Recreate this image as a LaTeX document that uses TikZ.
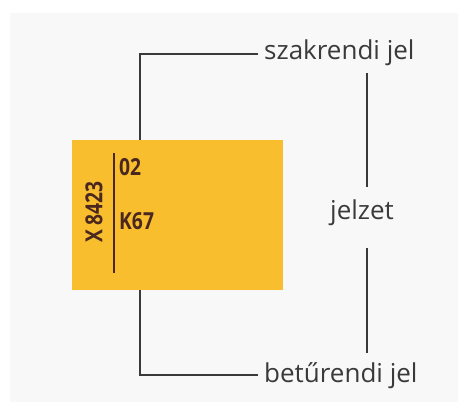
\documentclass[tikz,border=0pt]{standalone}
\usepackage{fontspec}
\setmainfont{Open Sans}
\newfontfamily\cardfont{Open Sans}
\definecolor{bggray}{HTML}{F8F8F8}
\definecolor{cardyellow}{HTML}{F8BE2E}
\definecolor{cardbrown}{HTML}{4A2820}
\definecolor{linegray}{HTML}{3A3A3A}
\begin{document}
\begin{tikzpicture}[x=1pt,y=-1pt,
  lbl/.style={font=\fontsize{26}{28}\selectfont, text=linegray, inner sep=0pt},
  cardtxt/.style={font=\cardfont\bfseries\fontsize{23.5}{25}\selectfont, text=cardbrown, inner sep=0pt},
  conn/.style={draw=linegray, line width=1.1pt}]
\useasboundingbox (0,0) rectangle (470,413);
\fill[white] (0,0) rectangle (470,413);
\fill[bggray] (10,13) rectangle (458,402);
% card
\node[fill=cardyellow, minimum width=211pt, minimum height=150pt, inner sep=0pt, anchor=north west] (card) at (72,140) {};
\draw[cardbrown, line width=1.2pt] (114,153) -- (114,273);
\node[cardtxt, anchor=west] (n02) at (119,167) {\scalebox{0.82}[1]{02}};
\node[cardtxt, anchor=west] (k67) at (119,221) {\scalebox{0.82}[1]{K67}};
\node[cardtxt, rotate=90] (x8423) at (94,212) {\scalebox{0.82}[1]{X 8423}};
% labels
\node[lbl, anchor=west] (szak) at (264,53) {szakrendi jel};
\node[lbl, anchor=west] (betu) at (264,376) {betűrendi jel};
\node[lbl] (jelzet) at (362,213) {jelzet};
% connectors
\coordinate (topcorner) at (140,54);
\coordinate (botcorner) at (140,375);
\draw[conn] (szak.west) ++(-6,1) -| (card.north -| topcorner);
\draw[conn] (betu.west) ++(-6,-1) -| (card.south -| botcorner);
\coordinate (rtop) at (367,73);
\coordinate (rbot) at (367,353);
\draw[conn] (rtop) -- (rtop |- 0,187);
\draw[conn] (rbot) -- (rbot |- 0,248);
\end{tikzpicture}
\end{document}
